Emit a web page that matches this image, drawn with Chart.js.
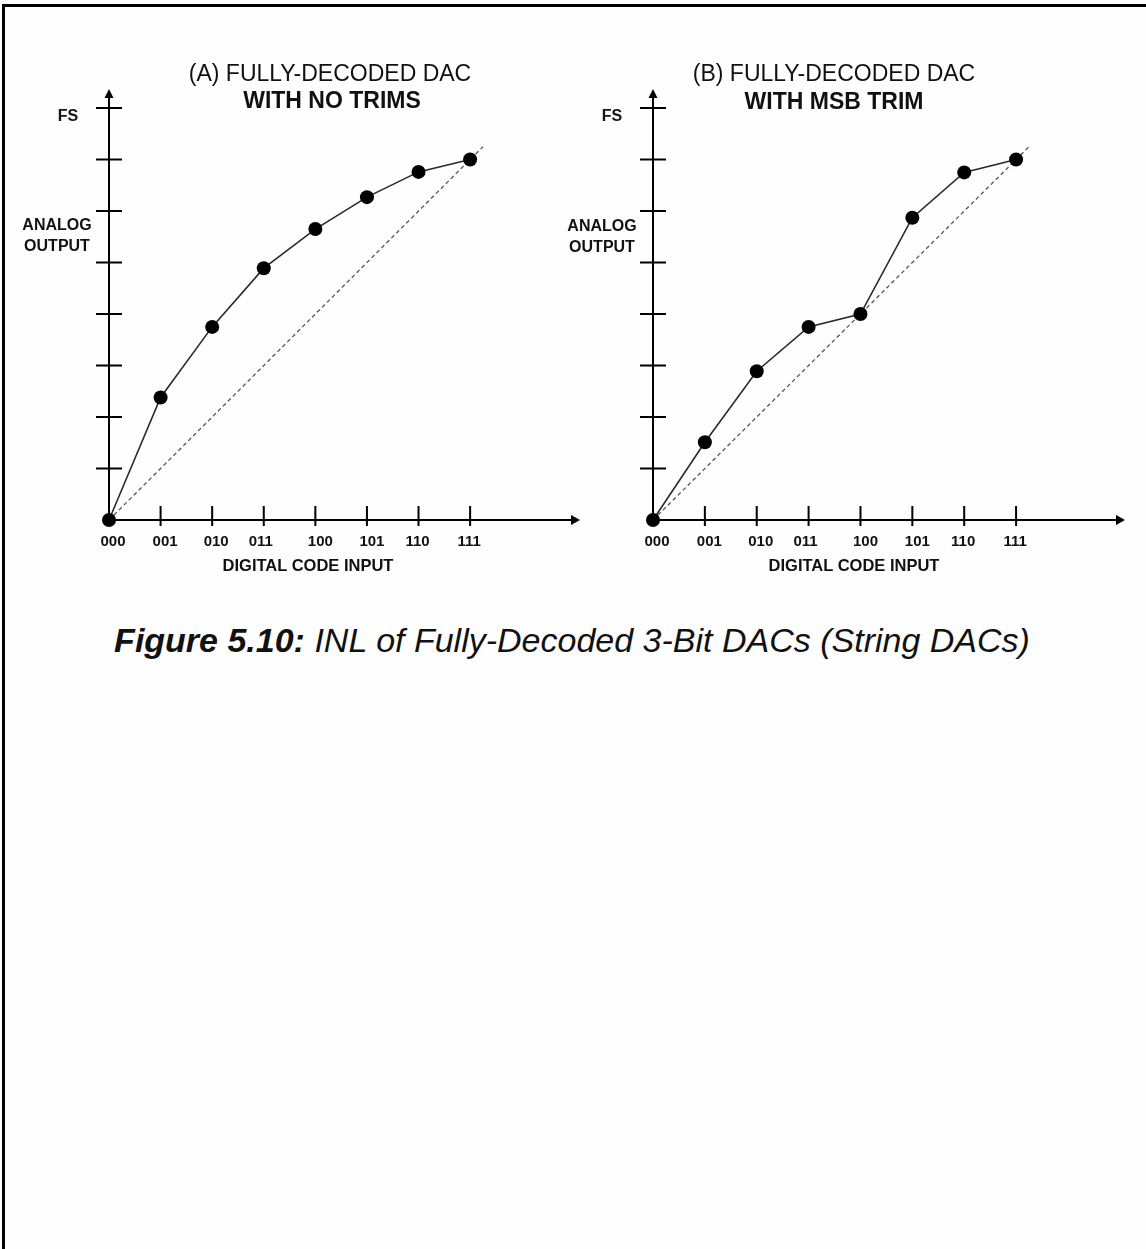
<!DOCTYPE html>
<html>
<head>
<meta charset="utf-8">
<script src="https://cdn.jsdelivr.net/npm/chart.js@4.4.1/dist/chart.umd.min.js"></script>
<style>
  html, body { margin: 0; padding: 0; background: #fff; }
  #page { position: relative; width: 1146px; height: 1249px; overflow: hidden; background: #fefefe;
          font-family: "Liberation Sans", Arial, sans-serif; color: #111; }
  #frame { position: absolute; left: 2px; top: 4px; right: -10px; bottom: -10px;
           border-top: 3px solid #000; border-left: 3px solid #000; }
  canvas { position: absolute; left: 0; top: 0; }
  .t { position: absolute; white-space: nowrap; transform: translate(-50%, -50%); line-height: 1; }
  .ttl1 { font-size: 23px; font-weight: normal; }
  .ttl2 { font-size: 23px; font-weight: bold; }
  .ax { font-size: 16px; font-weight: bold; }
  .xt { font-size: 16.5px; font-weight: bold; }
  #caption { font-size: 34px; font-style: italic; }
</style>
</head>
<body>
<div id="page">
  <div id="frame"></div>
  <canvas id="chartA" width="1146" height="600"></canvas>
  <canvas id="chartB" width="1146" height="600"></canvas>

  <div class="t ttl1" style="left:330px;top:73px">(A) FULLY-DECODED DAC</div>
  <div class="t ttl2" style="left:332px;top:100px">WITH NO TRIMS</div>
  <div class="t ttl1" style="left:834px;top:73px">(B) FULLY-DECODED DAC</div>
  <div class="t ttl2" style="left:834px;top:101px">WITH MSB TRIM</div>

  <div class="t ax" style="left:57px;top:225px">ANALOG</div>
  <div class="t ax" style="left:57px;top:246px">OUTPUT</div>
  <div class="t ax" style="left:602px;top:226px">ANALOG</div>
  <div class="t ax" style="left:602px;top:247px">OUTPUT</div>

  <div class="t xt" style="left:308px;top:565px">DIGITAL CODE INPUT</div>
  <div class="t xt" style="left:854px;top:565px">DIGITAL CODE INPUT</div>

  <div class="t" id="caption" style="left:572px;top:640px"><b>Figure 5.10:</b> INL of Fully-Decoded 3-Bit DACs (String DACs)</div>
</div>

<script>
// Digital input codes of the 3-bit converter
const codes = ['000', '001', '010', '011', '100', '101', '110', '111'];

// Analog output (in LSB steps) for each code
const outputNoTrim = [0, 2.38, 3.75, 4.89, 5.65, 6.27, 6.76, 7.0];
const outputMsbTrim = [0, 1.51, 2.89, 3.75, 4.0, 5.87, 6.75, 7.0];

// Ideal straight transfer line (end points)
const idealX = [0, 7.25];
const idealY = [0, 7.25];

// Output-axis tick values; the top one is full scale
const outputTicks = [1, 2, 3, 4, 5, 6, 7, 8];
const fullScaleLabel = 'FS';

// Small horizontal nudges of the code labels
const labelNudge = [4, 4.5, 4, -3, 5, 5, -1, -1];

const toPoints = (xs, ys) => xs.map((x, i) => ({ x, y: ys[i] }));

// Draws the arrowed axes, tick marks and tick labels from the chart's scales
const dacAxes = {
  id: 'dacAxes',
  beforeDatasetsDraw(chart, args, opts) {
    const { ctx, scales: { x, y } } = chart;
    const x0 = x.getPixelForValue(0), y0 = y.getPixelForValue(0);
    const xEnd = x.getPixelForValue(x.max), yEnd = y.getPixelForValue(y.max);
    const a = opts.arrowLen;
    ctx.save();
    ctx.strokeStyle = '#000';
    ctx.lineWidth = 2;
    ctx.beginPath();
    ctx.moveTo(x0, y0); ctx.lineTo(x0, yEnd + a);
    ctx.moveTo(x0, y0); ctx.lineTo(xEnd - a, y0);
    outputTicks.forEach(v => {
      const p = y.getPixelForValue(v);
      ctx.moveTo(x0 - 13, p); ctx.lineTo(x0 + 13, p);
    });
    codes.forEach((c, i) => {
      if (i === 0) return;
      const p = x.getPixelForValue(i);
      ctx.moveTo(p, y0 - 14); ctx.lineTo(p, y0 + 6);
    });
    ctx.stroke();
    ctx.fillStyle = '#000';
    ctx.beginPath();
    ctx.moveTo(x0, yEnd); ctx.lineTo(x0 - 4.5, yEnd + a); ctx.lineTo(x0 + 4.5, yEnd + a);
    ctx.closePath(); ctx.fill();
    ctx.beginPath();
    ctx.moveTo(xEnd, y0); ctx.lineTo(xEnd - a, y0 - 5); ctx.lineTo(xEnd - a, y0 + 5);
    ctx.closePath(); ctx.fill();
    ctx.restore();
  },
  afterDraw(chart) {
    const { ctx, scales: { x, y } } = chart;
    const x0 = x.getPixelForValue(0), y0 = y.getPixelForValue(0);
    ctx.save();
    ctx.fillStyle = '#111';
    ctx.textAlign = 'center';
    ctx.textBaseline = 'middle';
    ctx.font = 'bold 15px "Liberation Sans", Arial, sans-serif';
    codes.forEach((c, i) => {
      ctx.fillText(c, x.getPixelForValue(i) + labelNudge[i], y0 + 22);
    });
    ctx.font = 'bold 16px "Liberation Sans", Arial, sans-serif';
    const top = outputTicks[outputTicks.length - 1];
    ctx.fillText(fullScaleLabel, x0 - 41, y.getPixelForValue(top) + 9);
    ctx.restore();
  }
};

function makeChart(id, values, padding, xMax) {
  return new Chart(document.getElementById(id), {
    type: 'line',
    data: {
      datasets: [
        {
          data: toPoints(codes.map((c, i) => i), values),
          borderColor: '#2a2a2a',
          borderWidth: 1.6,
          pointRadius: 7,
          pointBackgroundColor: '#000',
          pointBorderColor: '#000',
          pointBorderWidth: 0,
          tension: 0,
          clip: false,
          order: 0
        },
        {
          data: toPoints(idealX, idealY),
          borderColor: '#555',
          borderWidth: 1.3,
          borderDash: [4, 3],
          pointRadius: 0,
          tension: 0,
          clip: false,
          order: 1
        }
      ]
    },
    options: {
      responsive: false,
      animation: false,
      devicePixelRatio: 1,
      events: [],
      layout: { padding },
      plugins: {
        legend: { display: false },
        tooltip: { enabled: false },
        title: { display: false },
        dacAxes: { arrowLen: 9 }
      },
      scales: {
        x: { type: 'linear', display: false, min: 0, max: xMax },
        y: { type: 'linear', display: false, min: 0, max: 8.37 }
      }
    },
    plugins: [dacAxes]
  });
}

makeChart('chartA', outputNoTrim, { left: 109, right: 566, top: 89, bottom: 80 }, 9.13);
makeChart('chartB', outputMsbTrim, { left: 653, right: 21, top: 89, bottom: 80 }, 9.1);
</script>
</body>
</html>
